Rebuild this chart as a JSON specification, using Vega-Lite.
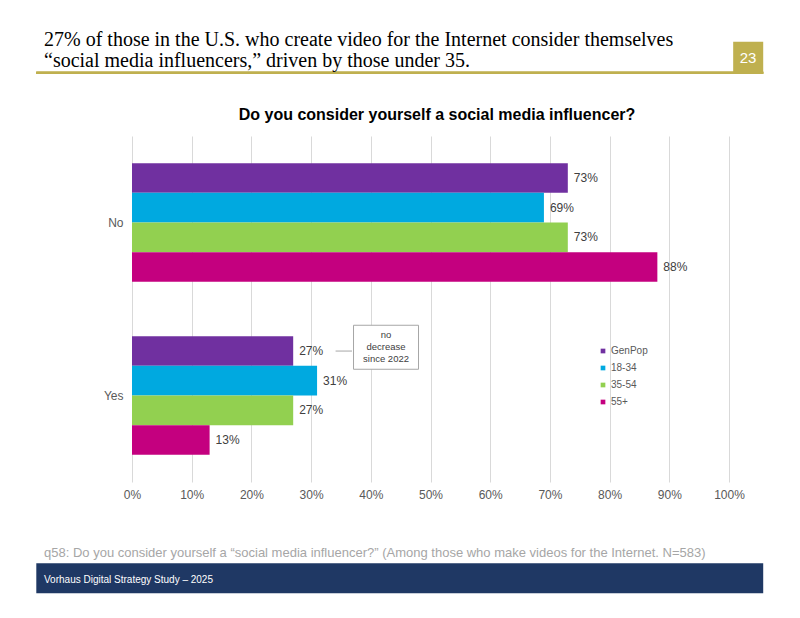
{
  "$schema": "https://vega.github.io/schema/vega-lite/v6.json",
  "width": 597,
  "height": 346,
  "autosize": {"type": "none"},
  "padding": {"left": 132, "top": 136, "right": 71, "bottom": 136},
  "background": "white",
  "config": {
    "view": {"stroke": null},
    "font": "Liberation Sans",
    "text": {"font": "Liberation Sans"}
  },
  "layer": [
    {
      "data": {
        "values": [
          {"answer": "No", "group": "GenPop", "share": 0.73},
          {"answer": "No", "group": "18-34", "share": 0.69},
          {"answer": "No", "group": "35-54", "share": 0.73},
          {"answer": "No", "group": "55+", "share": 0.88},
          {"answer": "Yes", "group": "GenPop", "share": 0.27},
          {"answer": "Yes", "group": "18-34", "share": 0.31},
          {"answer": "Yes", "group": "35-54", "share": 0.27},
          {"answer": "Yes", "group": "55+", "share": 0.13}
        ]
      },
      "encoding": {
        "y": {
          "field": "answer",
          "type": "nominal",
          "sort": ["No", "Yes"],
          "scale": {"paddingInner": 0.315, "paddingOuter": 0.1575},
          "axis": {
            "title": null,
            "ticks": false,
            "domain": false,
            "labelFontSize": 12,
            "labelColor": "#595959",
            "labelPadding": 9
          }
        },
        "yOffset": {
          "field": "group",
          "type": "nominal",
          "sort": ["GenPop", "18-34", "35-54", "55+"]
        }
      },
      "layer": [
        {
          "mark": {"type": "bar"},
          "encoding": {
            "x": {
              "field": "share",
              "type": "quantitative",
              "scale": {"domain": [0, 1]},
              "axis": {
                "title": null,
                "values": [0, 0.1, 0.2, 0.3, 0.4, 0.5, 0.6, 0.7, 0.8, 0.9, 1],
                "format": ".0%",
                "labelFlush": false,
                "labelFontSize": 12,
                "labelColor": "#595959",
                "labelPadding": 7,
                "ticks": false,
                "domain": false,
                "grid": true,
                "gridColor": "#d9d9d9",
                "gridWidth": 1
              }
            },
            "color": {
              "field": "group",
              "type": "nominal",
              "sort": ["GenPop", "18-34", "35-54", "55+"],
              "scale": {
                "domain": ["GenPop", "18-34", "35-54", "55+"],
                "range": ["#7030A0", "#00A9E0", "#92D050", "#C4007F"]
              },
              "legend": {
                "title": null,
                "orient": "none",
                "legendX": 466,
                "legendY": 210,
                "padding": 0,
                "symbolType": "square",
                "symbolSize": 22,
                "symbolStrokeWidth": 0,
                "labelFontSize": 10,
                "labelColor": "#595959",
                "labelOffset": 3,
                "rowPadding": 7
              }
            }
          }
        },
        {
          "mark": {"type": "text", "align": "left", "baseline": "middle", "dx": 6, "fontSize": 12, "color": "#404040"},
          "encoding": {
            "x": {"field": "share", "type": "quantitative", "scale": {"domain": [0, 1]}},
            "text": {"field": "share", "type": "quantitative", "format": ".0%"}
          }
        },
        {
          "data": {"values": [{"answer": "Yes", "group": "GenPop", "note": ["no", "decrease", "since 2022"]}]},
          "layer": [
            {
              "mark": {"type": "rule", "color": "#a6a6a6", "strokeWidth": 1},
              "encoding": {
                "x": {"datum": 0.341, "type": "quantitative", "scale": {"domain": [0, 1]}},
                "x2": {"datum": 0.3685}
              }
            },
            {
              "mark": {
                "type": "point",
                "shape": "M-1,-0.794H1V0.56H-1Z",
                "size": 4225,
                "filled": true,
                "fill": "white",
                "stroke": "#a6a6a6",
                "strokeWidth": 1,
                "opacity": 1
              },
              "encoding": {
                "x": {"datum": 0.4255, "type": "quantitative", "scale": {"domain": [0, 1]}}
              }
            },
            {
              "mark": {"type": "text", "align": "center", "baseline": "middle", "dy": -15.8, "fontSize": 9.5, "lineHeight": 12, "color": "#404040"},
              "encoding": {
                "x": {"datum": 0.4255, "type": "quantitative", "scale": {"domain": [0, 1]}},
                "text": {"field": "note"}
              }
            }
          ]
        }
      ]
    },
    {
      "data": {
        "values": [
          {"part": "heading", "text": ["27% of those in the U.S. who create video for the Internet consider themselves", "“social media influencers,” driven by those under 35."]},
          {"part": "question", "text": "Do you consider yourself a social media influencer?"},
          {"part": "footnote", "text": "q58: Do you consider yourself a “social media influencer?” (Among those who make videos for the Internet. N=583)"},
          {"part": "footer", "text": "Vorhaus Digital Strategy Study – 2025"},
          {"part": "page", "text": "23"}
        ]
      },
      "layer": [
        {
          "mark": {"type": "rule", "color": "#BFB04F", "strokeWidth": 2},
          "encoding": {
            "x": {"datum": -0.1603, "type": "quantitative", "scale": {"domain": [0, 1]}},
            "x2": {"datum": 1.0573},
            "y": {"datum": 1.183, "type": "quantitative", "scale": {"domain": [0, 1], "nice": false, "zero": false}, "axis": null}
          }
        },
        {
          "transform": [{"filter": "datum.part === 'page'"}],
          "mark": {"type": "rect", "color": "#BFB04F"},
          "encoding": {
            "x": {"datum": 1.007, "type": "quantitative", "scale": {"domain": [0, 1]}},
            "x2": {"datum": 1.0573},
            "y": {"datum": 1.2726, "type": "quantitative", "scale": {"domain": [0, 1], "nice": false, "zero": false}, "axis": null},
            "y2": {"datum": 1.18}
          }
        },
        {
          "transform": [{"filter": "datum.part === 'page'"}],
          "mark": {"type": "text", "align": "center", "baseline": "alphabetic", "fontSize": 15, "color": "white"},
          "encoding": {
            "x": {"datum": 1.032, "type": "quantitative", "scale": {"domain": [0, 1]}},
            "y": {"datum": 1.2101, "type": "quantitative", "scale": {"domain": [0, 1], "nice": false, "zero": false}, "axis": null},
            "text": {"field": "text"}
          }
        },
        {
          "transform": [{"filter": "datum.part === 'footer'"}],
          "mark": {"type": "rect", "color": "#1F3864"},
          "encoding": {
            "x": {"datum": -0.1603, "type": "quantitative", "scale": {"domain": [0, 1]}},
            "x2": {"datum": 1.0573},
            "y": {"datum": -0.235, "type": "quantitative", "scale": {"domain": [0, 1], "nice": false, "zero": false}, "axis": null},
            "y2": {"datum": -0.3217}
          }
        },
        {
          "transform": [{"filter": "datum.part === 'footer'"}],
          "mark": {"type": "text", "align": "left", "baseline": "alphabetic", "fontSize": 10, "color": "white"},
          "encoding": {
            "x": {"datum": -0.1474, "type": "quantitative", "scale": {"domain": [0, 1]}},
            "y": {"datum": -0.2919, "type": "quantitative", "scale": {"domain": [0, 1], "nice": false, "zero": false}, "axis": null},
            "text": {"field": "text"}
          }
        },
        {
          "transform": [{"filter": "datum.part === 'footnote'"}],
          "mark": {"type": "text", "align": "left", "baseline": "alphabetic", "fontSize": 13, "color": "#a6a6a6"},
          "encoding": {
            "x": {"datum": -0.1474, "type": "quantitative", "scale": {"domain": [0, 1]}},
            "y": {"datum": -0.2168, "type": "quantitative", "scale": {"domain": [0, 1], "nice": false, "zero": false}, "axis": null},
            "text": {"field": "text"}
          }
        },
        {
          "transform": [{"filter": "datum.part === 'question'"}],
          "mark": {"type": "text", "align": "center", "baseline": "alphabetic", "fontSize": 16, "fontWeight": "bold", "color": "#000000"},
          "encoding": {
            "x": {"datum": 0.5109, "type": "quantitative", "scale": {"domain": [0, 1]}},
            "y": {"datum": 1.0462, "type": "quantitative", "scale": {"domain": [0, 1], "nice": false, "zero": false}, "axis": null},
            "text": {"field": "text"}
          }
        },
        {
          "transform": [{"filter": "datum.part === 'heading'"}],
          "mark": {"type": "text", "align": "left", "baseline": "alphabetic", "font": "Liberation Serif", "fontSize": 20, "lineHeight": 21, "color": "#000000"},
          "encoding": {
            "x": {"datum": -0.1474, "type": "quantitative", "scale": {"domain": [0, 1]}},
            "y": {"datum": 1.2601, "type": "quantitative", "scale": {"domain": [0, 1], "nice": false, "zero": false}, "axis": null},
            "text": {"field": "text"}
          }
        }
      ]
    }
  ],
  "resolve": {"scale": {"y": "independent"}}
}
